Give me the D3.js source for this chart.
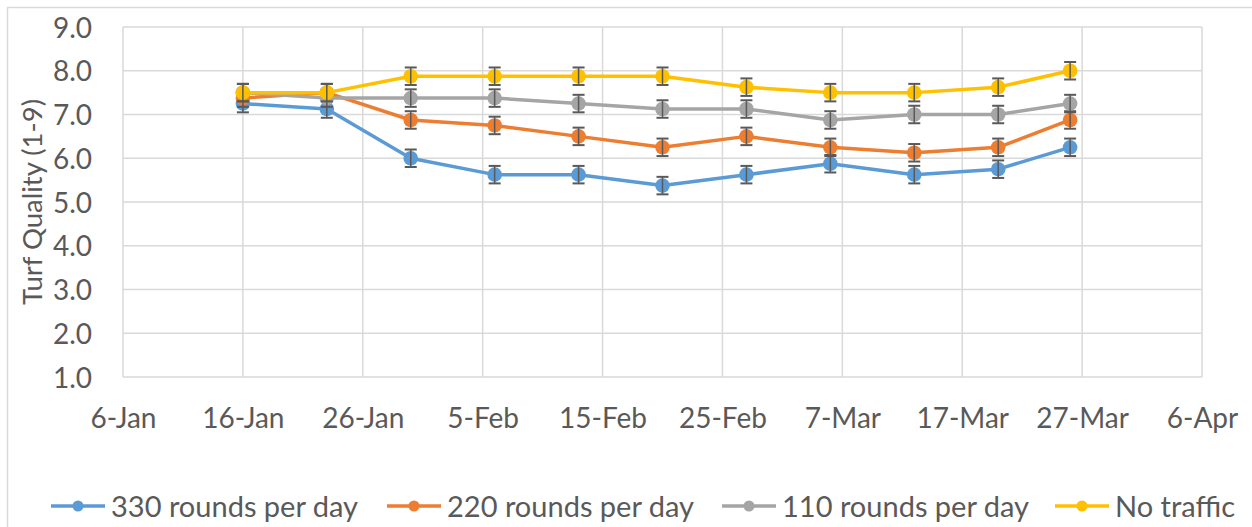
<!DOCTYPE html>
<html>
<head>
<meta charset="utf-8">
<script src="https://cdn.jsdelivr.net/npm/d3@7"></script>
<style>
  html, body { margin: 0; padding: 0; background: #fff; }
  svg text { font-family: Lato, "Open Sans", sans-serif; fill: #595959; }
</style>
</head>
<body>
<svg id="chart" width="1252" height="527"></svg>
<script>
// sampling dates (2014) and turf quality ratings
const dates = ["16-Jan", "23-Jan", "30-Jan", "6-Feb", "13-Feb", "20-Feb", "27-Feb", "6-Mar", "13-Mar", "20-Mar", "26-Mar"]
const rounds330 = [7.25, 7.125, 6.0, 5.625, 5.625, 5.375, 5.625, 5.875, 5.625, 5.75, 6.25]
const rounds220 = [7.375, 7.5, 6.875, 6.75, 6.5, 6.25, 6.5, 6.25, 6.125, 6.25, 6.875]
const rounds110 = [7.5, 7.375, 7.375, 7.375, 7.25, 7.125, 7.125, 6.875, 7.0, 7.0, 7.25]
const noTraffic = [7.5, 7.5, 7.875, 7.875, 7.875, 7.875, 7.625, 7.5, 7.5, 7.625, 8.0]
const errorBar = 0.2

const xTicks = ["6-Jan", "16-Jan", "26-Jan", "5-Feb", "15-Feb", "25-Feb", "7-Mar", "17-Mar", "27-Mar", "6-Apr"]
const yTicks = [1, 2, 3, 4, 5, 6, 7, 8, 9]

const seriesNames = ["330 rounds per day", "220 rounds per day", "110 rounds per day", "No traffic"]
const seriesColors = ["#5b9bd5", "#ed7d31", "#a5a5a5", "#ffc000"]
const seriesValues = [rounds330, rounds220, rounds110, noTraffic]

const parse = d3.utcParse("%d-%b-%Y")
const toDate = s => parse(s + "-2014")

const margin = { left: 123, top: 27, right: 1202, bottom: 377 }

const svg = d3.select("#chart")

// chart frame
svg.append("rect")
    .attr("x", 7.5).attr("y", 7.5)
    .attr("width", 1260).attr("height", 540)
    .style("fill", "none")
    .style("stroke", "#d9d9d9")
    .style("stroke-width", 1.5)

const x = d3.scaleUtc()
    .domain([toDate(xTicks[0]), toDate(xTicks[xTicks.length - 1])])
    .range([margin.left, margin.right])

const y = d3.scaleLinear()
    .domain([1, 9])
    .range([margin.bottom, margin.top])

// gridlines
svg.append("g")
    .selectAll("line")
    .data(yTicks)
    .join("line")
    .attr("x1", margin.left).attr("x2", margin.right)
    .attr("y1", d => y(d)).attr("y2", d => y(d))
    .style("stroke", "#d9d9d9")
    .style("stroke-width", 1.5)

svg.append("g")
    .selectAll("line")
    .data(xTicks)
    .join("line")
    .attr("x1", d => x(toDate(d))).attr("x2", d => x(toDate(d)))
    .attr("y1", margin.top).attr("y2", margin.bottom)
    .style("stroke", "#d9d9d9")
    .style("stroke-width", 1.5)

// axes, labels only
const yAxis = svg.append("g")
    .attr("transform", `translate(${margin.left},0)`)
    .call(d3.axisLeft(y).tickValues(yTicks).tickFormat(d3.format(".1f")).tickSize(0).tickPadding(31))
yAxis.select(".domain").remove()
yAxis.selectAll("text")
    .style("font-size", "28px")
    .attr("dy", "0.36em")

const xAxis = svg.append("g")
    .attr("transform", `translate(0,${margin.bottom})`)
    .call(d3.axisBottom(x).tickValues(xTicks.map(toDate)).tickFormat((d, i) => xTicks[i]).tickSize(0).tickPadding(51))
xAxis.select(".domain").remove()
xAxis.selectAll("text")
    .style("font-size", "28px")
    .attr("dy", "0")

svg.append("text")
    .attr("transform", `translate(42,${(margin.top + margin.bottom) / 2}) rotate(-90)`)
    .attr("text-anchor", "middle")
    .style("font-size", "27.5px")
    .text("Turf Quality (1-9)")

// series
const line = d3.line()
    .x((d, i) => x(toDate(dates[i])))
    .y(d => y(d))

seriesValues.forEach((vals, s) => {
    const g = svg.append("g")
    g.append("path")
        .datum(vals)
        .attr("d", line)
        .style("fill", "none")
        .style("stroke", seriesColors[s])
        .style("stroke-width", 3.5)
        .style("stroke-linejoin", "round")

    g.selectAll("circle")
        .data(vals)
        .join("circle")
        .attr("cx", (d, i) => x(toDate(dates[i])))
        .attr("cy", d => y(d))
        .attr("r", 7.3)
        .style("fill", seriesColors[s])

    const eb = g.selectAll("g.eb")
        .data(vals)
        .join("g")
        .attr("class", "eb")
        .attr("transform", (d, i) => `translate(${x(toDate(dates[i]))},0)`)
        .style("stroke", "#595959")
    eb.append("line")
        .attr("x1", 0).attr("x2", 0)
        .attr("y1", d => y(d + errorBar)).attr("y2", d => y(d - errorBar))
        .style("stroke-width", 1.5)
    eb.selectAll("line.cap")
        .data(d => [d + errorBar, d - errorBar])
        .join("line")
        .attr("class", "cap")
        .attr("x1", -6).attr("x2", 6)
        .attr("y1", d => y(d)).attr("y2", d => y(d))
        .style("stroke-width", 2)
})

// legend
const legendX = [51, 387, 722, 1055]
const legend = svg.append("g")
    .selectAll("g")
    .data(seriesNames)
    .join("g")
    .attr("transform", (d, i) => `translate(${legendX[i]},506)`)
legend.append("line")
    .attr("x1", 0).attr("x2", 54)
    .style("stroke", (d, i) => seriesColors[i])
    .style("stroke-width", 3.5)
legend.append("circle")
    .attr("cx", 27)
    .attr("r", 5.5)
    .style("fill", (d, i) => seriesColors[i])
legend.append("text")
    .attr("x", 60)
    .attr("y", 10.5)
    .style("font-size", "29px")
    .text(d => d)
</script>
</body>
</html>
